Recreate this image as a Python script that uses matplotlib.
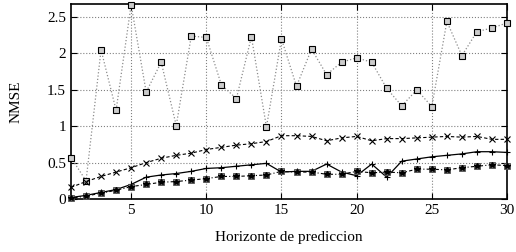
import numpy as np
import matplotlib
matplotlib.use("Agg")
import matplotlib.pyplot as plt

plt.rcParams['font.family'] = ['Liberation Serif', 'DejaVu Serif']

horizon = np.arange(1, 31)

nmse_sq = [0.57, 0.25, 2.05, 1.22, 2.67, 1.47, 1.88, 1.01, 2.24, 2.22,
           1.57, 1.38, 2.23, 0.99, 2.20, 1.55, 2.06, 1.71, 1.88, 1.94,
           1.88, 1.52, 1.28, 1.50, 1.27, 2.44, 1.97, 2.30, 2.35, 2.42]
nmse_x = [0.16, 0.24, 0.31, 0.37, 0.43, 0.50, 0.56, 0.60, 0.63, 0.68,
          0.71, 0.74, 0.76, 0.79, 0.87, 0.87, 0.86, 0.80, 0.84, 0.86,
          0.80, 0.83, 0.83, 0.84, 0.85, 0.86, 0.85, 0.86, 0.82, 0.82]
nmse_plus = [0.02, 0.05, 0.09, 0.13, 0.20, 0.30, 0.33, 0.35, 0.38, 0.42,
             0.43, 0.45, 0.47, 0.49, 0.37, 0.38, 0.38, 0.48, 0.37, 0.32,
             0.48, 0.30, 0.52, 0.55, 0.58, 0.60, 0.62, 0.65, 0.65, 0.64]
nmse_box = [0.01, 0.04, 0.08, 0.12, 0.17, 0.20, 0.23, 0.24, 0.26, 0.28,
            0.31, 0.31, 0.32, 0.33, 0.38, 0.37, 0.37, 0.34, 0.34, 0.38,
            0.36, 0.37, 0.36, 0.41, 0.41, 0.40, 0.43, 0.45, 0.47, 0.46]

fig = plt.figure(figsize=(5.16, 2.52), dpi=100)
ax = fig.add_axes([71 / 516, 1 - 199 / 252, 436 / 516, 195 / 252])

ax.plot(horizon, nmse_sq, color='0.55', ls=':', lw=0.9, marker='s', ms=4,
        mfc='0.8', mec='black', mew=0.8, clip_on=False, zorder=3)
ax.plot(horizon, nmse_x, color='black', ls='--', lw=0.8, dashes=(3, 2),
        marker='x', ms=4, mew=0.8, clip_on=False, zorder=3)
ax.plot(horizon, nmse_plus, color='black', ls='-', lw=0.9,
        marker='+', ms=5, mew=0.8, clip_on=False, zorder=3)
ax.plot(horizon, nmse_box, color='black', ls=(0, (1, 2, 3, 2)), lw=0.8,
        marker='s', ms=4, mfc='0.6', mec='0.3', mew=0.6, clip_on=False, zorder=3)
ax.plot(horizon, nmse_box, ls='none', marker='*', ms=4, color='black',
        clip_on=False, zorder=4)

ax.set_xlim(1, 30)
ax.set_ylim(0, 2.68)
ax.set_xticks([5, 10, 15, 20, 25, 30])
ax.set_yticks([0, 0.5, 1, 1.5, 2, 2.5])
ax.set_yticklabels(['0', '0.5', '1', '1.5', '2', '2.5'])
ax.grid(True, ls=':', color='0.5', lw=0.8)
ax.tick_params(direction='in', top=True, right=True, labelsize=11, length=4)
for s in ax.spines.values():
    s.set_linewidth(1.2)

ax.set_xlabel('Horizonte de prediccion', fontsize=11, labelpad=10)
ax.set_ylabel('NMSE', fontsize=11, labelpad=18)

fig.savefig('out.png', dpi=100)
